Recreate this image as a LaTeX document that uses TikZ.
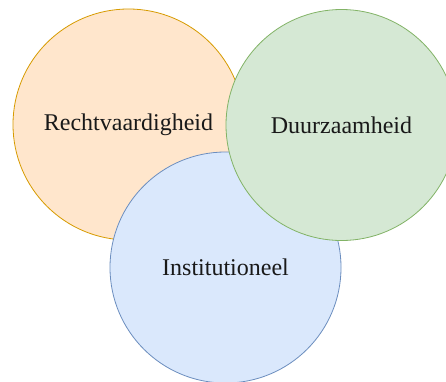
\documentclass[tikz,border=0pt]{standalone}
\usepackage{fontspec}
\setmainfont{Liberation Serif}
\definecolor{orangefill}{HTML}{FFE6CC}
\definecolor{orangeline}{HTML}{D79B00}
\definecolor{greenfill}{HTML}{D5E8D4}
\definecolor{greenline}{HTML}{82B366}
\definecolor{bluefill}{HTML}{DAE8FC}
\definecolor{blueline}{HTML}{6C8EBF}
\tikzset{
  venn/.style={circle, minimum size=231pt, inner sep=0pt, line width=0.8pt,
    font=\fontsize{24}{28}\selectfont, text=black!90}
}
\begin{document}
\begin{tikzpicture}[x=1pt, y=-1pt]
  \fill[white] (0,0) rectangle (446,381);
  \useasboundingbox (0,0) rectangle (446,381);
  \node[venn, fill=orangefill, draw=orangeline] (recht) at (128.5,124.5) {Rechtvaardigheid};
  \node[venn, fill=bluefill, draw=blueline] (inst) at (225.5,267.5) {Institutioneel};
  \node[venn, fill=greenfill, draw=greenline] (duur) at (341.5,125) {Duurzaamheid};
\end{tikzpicture}
\end{document}
